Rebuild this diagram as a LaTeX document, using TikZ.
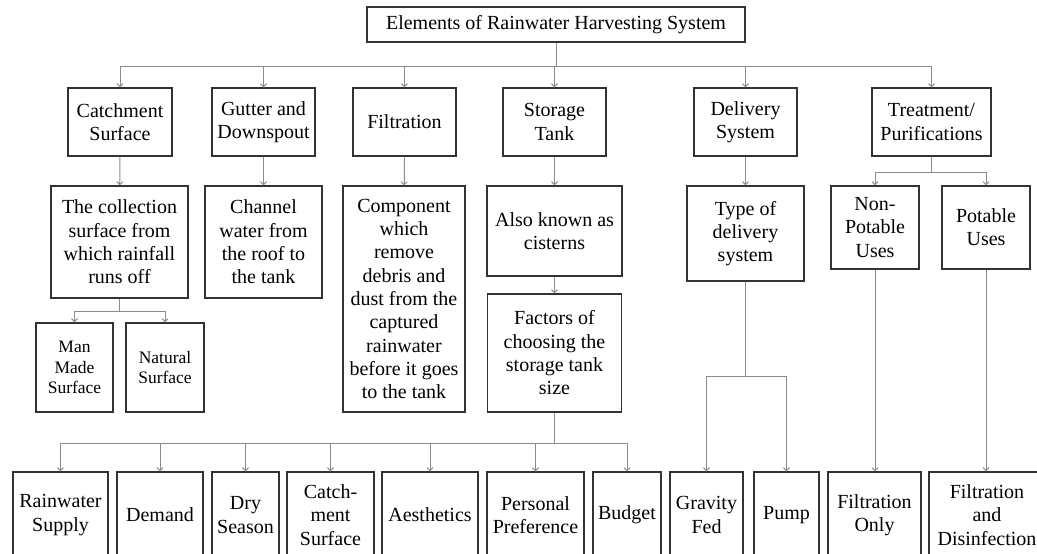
\documentclass[tikz,border=0pt]{standalone}
\usepackage{fontspec}
\setmainfont{Liberation Serif}
\usetikzlibrary{arrows.meta}

\tikzset{
	elem/.style={rectangle, draw=black!80, line width=1.3pt, align=center, inner sep=2pt,
		font=\fontsize{20}{23.3}\selectfont},
	elemsmall/.style={elem, font=\fontsize{17.5}{20.5}\selectfont},
	link/.style={draw=black!45, line width=1pt},
	linkarrow/.style={link, -{Straight Barb[length=3pt,width=6pt]}}
}

\begin{document}
\begin{tikzpicture}[x=1pt, y=-1pt]

	\useasboundingbox (0,0) rectangle (1037,554);

	\node[elem, minimum width=378pt, minimum height=35pt] (title) at (556,24.5) {Elements of Rainwater Harvesting System};

	\node[elem, minimum width=104pt, minimum height=68pt] (cs) at (120,122) {Catchment\\Surface};
	\node[elem, minimum width=103pt, minimum height=68pt] (gd) at (263.5,122) {Gutter and\\Downspout};
	\node[elem, minimum width=103pt, minimum height=68pt] (fl) at (404.5,122) {Filtration};
	\node[elem, minimum width=103pt, minimum height=68pt] (st) at (554.5,122) {Storage\\Tank};
	\node[elem, minimum width=103pt, minimum height=68pt] (ds) at (745.5,122) {Delivery\\System};
	\node[elem, minimum width=119pt, minimum height=68pt] (tp) at (931.5,122) {Treatment/\\Purifications};

	\node[elem, minimum width=137pt, minimum height=112pt] (coll) at (119.5,242) {The collection\\surface from\\which rainfall\\runs off};
	\node[elem, minimum width=117pt, minimum height=112pt] (chan) at (263.5,242) {Channel\\water from\\the roof to\\the tank};
	\node[elem, minimum width=122pt, minimum height=226pt] (comp) at (404,299) {Component\\which\\remove\\debris and\\dust from the\\captured\\rainwater\\before it goes\\to the tank};
	\node[elem, minimum width=135pt, minimum height=90pt] (aka) at (554.5,231) {Also known as\\cisterns};
	\node[elem, minimum width=134pt, minimum height=118pt] (fac) at (554.5,353) {Factors of\\choosing the\\storage tank\\size};
	\node[elem, minimum width=117pt, minimum height=95pt] (type) at (745.5,233.5) {Type of\\delivery\\system};
	\node[elem, minimum width=88pt, minimum height=83pt] (np) at (875,227.5) {Non-\\Potable\\Uses};
	\node[elem, minimum width=88pt, minimum height=83pt] (pot) at (986,227.5) {Potable\\Uses};

	\node[elemsmall, minimum width=77pt, minimum height=89pt] (mm) at (74.5,367.5) {Man\\Made\\Surface};
	\node[elemsmall, minimum width=78pt, minimum height=89pt] (nat) at (165,367.5) {Natural\\Surface};

	\node[elem, minimum width=95pt, minimum height=86pt] (rs) at (60.5,515) {Rainwater\\Supply};
	\node[elem, minimum width=86pt, minimum height=86pt] (dem) at (160,515) {Demand};
	\node[elem, minimum width=67pt, minimum height=86pt] (dry) at (245.5,515) {Dry\\Season};
	\node[elem, minimum width=87pt, minimum height=86pt] (cm) at (330.5,515) {Catch-\\ment\\Surface};
	\node[elem, minimum width=96pt, minimum height=86pt] (aes) at (430,515) {Aesthetics};
	\node[elem, minimum width=97pt, minimum height=86pt] (pp) at (535.5,515) {Personal\\Preference};
	\node[elem, minimum width=68pt, minimum height=86pt] (bud) at (627,515) {Budget};
	\node[elem, minimum width=73pt, minimum height=86pt] (gf) at (706.5,515) {Gravity\\Fed};
	\node[elem, minimum width=65pt, minimum height=86pt] (pump) at (786.5,515) {Pump};
	\node[elem, minimum width=93pt, minimum height=86pt] (fo) at (874.5,515) {Filtration\\Only};
	\node[elem, minimum width=116pt, minimum height=86pt] (fd) at (987,515) {Filtration\\and\\Disinfection};

	\coordinate (topbus) at (556,66);
	\coordinate (csbus) at (119.5,311);
	\coordinate (facbus) at (554.5,443);
	\coordinate (dsbus) at (745.5,376);
	\coordinate (tpbus) at (931.5,172);

	\draw[link] (title.south) -- (topbus);
	\draw[link] (topbus -| cs) -- (topbus -| tp);
	\foreach \n in {cs,gd,fl,st,ds,tp}
		\draw[linkarrow] (topbus -| \n) -- (\n.north);

	\draw[linkarrow] (cs) -- (coll);
	\draw[linkarrow] (gd) -- (chan);
	\draw[linkarrow] (fl) -- (comp);
	\draw[linkarrow] (st) -- (aka);
	\draw[linkarrow] (aka) -- (fac);
	\draw[linkarrow] (ds) -- (type);

	\draw[link] (coll.south) -- (csbus);
	\draw[link] (csbus -| mm) -- (csbus -| nat);
	\foreach \n in {mm,nat}
		\draw[linkarrow] (csbus -| \n) -- (\n.north);

	\draw[link] (tp.south) -- (tpbus);
	\draw[link] (tpbus -| np) -- (tpbus -| pot);
	\foreach \n in {np,pot}
		\draw[linkarrow] (tpbus -| \n) -- (\n.north);

	\draw[link] (fac.south) -- (facbus);
	\draw[link] (facbus -| rs) -- (facbus -| bud);
	\foreach \n in {rs,dem,dry,cm,aes,pp,bud}
		\draw[linkarrow] (facbus -| \n) -- (\n.north);

	\draw[link] (type.south) -- (dsbus);
	\draw[link] (dsbus -| gf) -- (dsbus -| pump);
	\foreach \n in {gf,pump}
		\draw[linkarrow] (dsbus -| \n) -- (\n.north);

	\draw[linkarrow] (np.south) -- (np.south |- fo.north);
	\draw[linkarrow] (pot.south) -- (pot.south |- fd.north);

\end{tikzpicture}
\end{document}
